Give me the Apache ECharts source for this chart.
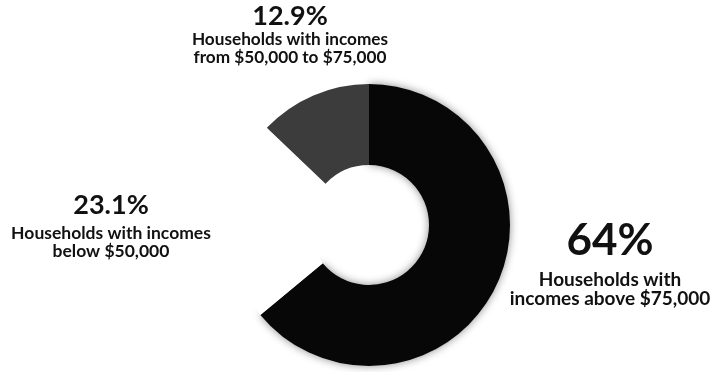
<!DOCTYPE html>
<html>
<head>
<meta charset="utf-8">
<script src="https://cdn.jsdelivr.net/npm/echarts@6/dist/echarts.min.js"></script>
<style>
  html, body { margin: 0; padding: 0; background: #ffffff; }
  #chart { width: 710px; height: 372px; }
</style>
</head>
<body>
<div id="chart"></div>
<script>
// Household income shares
const shares = [64, 23.1, 12.9];
const groupLines = [
  ['Households with', 'incomes above $75,000'],
  ['Households with incomes', 'below $50,000'],
  ['Households with incomes', 'from $50,000 to $75,000']
];
const sliceColors = ['#070707', '#ffffff', '#3c3c3c'];

// label anchor (centre x, top y) for each slice
const labelAnchors = [[610, 212], [111, 186], [290, 1]];
const pctStyle = ['pA', 'pB', 'pC'];
const descStyle = ['dA', 'dB', 'dC'];

const chart = echarts.init(document.getElementById('chart'), null, { renderer: 'canvas' });

const data = shares.map((v, i) => ({
  value: v,
  itemStyle: {
    color: sliceColors[i],
    shadowBlur: i === 0 ? 8 : 0,
    shadowColor: 'rgba(0,0,0,0.45)'
  }
}));

const font = 'Lato';
const txt = '#111111';

chart.setOption({
  animation: false,
  backgroundColor: '#ffffff',
  series: [{
    type: 'pie',
    center: [369, 225],
    radius: [60, 141],
    startAngle: 90,
    clockwise: true,
    silent: true,
    data: data,
    itemStyle: { borderWidth: 0 },
    labelLine: { show: false },
    label: {
      show: true,
      position: 'outside',
      alignTo: 'none',
      overflow: 'none',
      width: 260,
      color: txt,
      fontFamily: font,
      formatter: function (p) {
        const i = p.dataIndex;
        const pct = '{' + pctStyle[i] + '|' + shares[i] + '%}';
        const desc = groupLines[i].map(l => '{' + descStyle[i] + '|' + l + '}').join('\n');
        return pct + '\n' + desc;
      },
      rich: {
        pA: { fontFamily: font, fontWeight: 'bold', fontSize: 44, lineHeight: 58, color: txt, align: 'center' },
        pB: { fontFamily: font, fontWeight: 'bold', fontSize: 27, lineHeight: 38, color: txt, align: 'center' },
        pC: { fontFamily: font, fontWeight: 'bold', fontSize: 27, lineHeight: 30, color: txt, align: 'center' },
        dA: { fontFamily: font, fontWeight: 'bold', fontSize: 19, lineHeight: 19, color: txt, align: 'center' },
        dB: { fontFamily: font, fontWeight: 'bold', fontSize: 17.5, lineHeight: 18, color: txt, align: 'center' },
        dC: { fontFamily: font, fontWeight: 'bold', fontSize: 17.2, lineHeight: 17.5, color: txt, align: 'center' }
      }
    },
    labelLayout: function (p) {
      const a = labelAnchors[p.dataIndex];
      return { x: a[0], y: a[1], align: 'center', verticalAlign: 'top', hideOverlap: false };
    }
  }]
});
</script>
</body>
</html>
